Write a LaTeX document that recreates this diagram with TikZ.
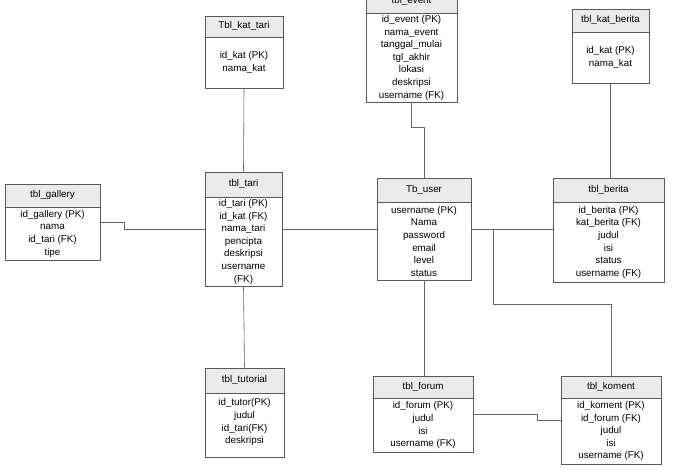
\documentclass[tikz,border=0pt]{standalone}
\usepackage{fontspec}
\setmainfont{Liberation Sans}
\begin{document}
\begin{tikzpicture}[x=1pt,y=-1pt,
        head/.style={draw=black!65,fill=black!8,anchor=south,inner sep=1pt,
            font=\fontsize{9.8}{12.6}\selectfont},
        body/.style={draw=black!65,fill=white,anchor=north,inner sep=1pt,align=center,
            font=\fontsize{9.8}{12.6}\selectfont},
        link/.style={draw=black!60,line width=0.6pt}]
        \useasboundingbox[fill=white] (0,0) rectangle (673,470);
        %% tables: header above, field list below
        \node[head,minimum width=95,minimum height=23] (gallery-h) at (52.5,207) {tbl\_gallery};
        \node[body,minimum width=95,minimum height=53] (gallery-b) at (52.5,207) {id\_gallery (PK)\\nama\\id\_tari (FK)\\tipe};
        \node[head,minimum width=78,minimum height=21] (kattari-h) at (244,37) {Tbl\_kat\_tari};
        \node[body,minimum width=78,minimum height=51] (kattari-b) at (244,37) {id\_kat (PK)\\nama\_kat};
        \node[head,minimum width=91,minimum height=23] (event-h) at (411.5,13) {tbl\_event};
        \node[body,minimum width=91,minimum height=89] (event-b) at (411.5,13) {id\_event (PK)\\nama\_event\\tanggal\_mulai\\tgl\_akhir\\lokasi\\deskripsi\\username (FK)};
        \node[head,minimum width=77,minimum height=23] (katberita-h) at (610.5,32) {tbl\_kat\_berita};
        \node[body,minimum width=77,minimum height=51] (katberita-b) at (610.5,32) {id\_kat (PK)\\nama\_kat};
        \node[head,minimum width=77,minimum height=25] (tari-h) at (243.5,197) {tbl\_tari};
        \node[body,minimum width=77,minimum height=89] (tari-b) at (243.5,197) {id\_tari (PK)\\id\_kat (FK)\\nama\_tari\\pencipta\\deskripsi\\username\\(FK)};
        \node[head,minimum width=94,minimum height=24] (user-h) at (424,202) {Tb\_user};
        \node[body,minimum width=94,minimum height=78] (user-b) at (424,202) {username (PK)\\Nama\\password\\email\\level\\status};
        \node[head,minimum width=111,minimum height=24] (berita-h) at (608.5,202) {tbl\_berita};
        \node[body,minimum width=111,minimum height=80] (berita-b) at (608.5,202) {id\_berita (PK)\\kat\_berita (FK)\\judul\\isi\\status\\username (FK)};
        \node[head,minimum width=79,minimum height=25] (tutorial-h) at (244.5,393) {tbl\_tutorial};
        \node[body,minimum width=79,minimum height=64,text depth=8pt] (tutorial-b) at (244.5,393) {id\_tutor(PK)\\judul\\id\_tari(FK)\\deskripsi};
        \node[head,minimum width=100,minimum height=22] (forum-h) at (423,398) {tbl\_forum};
        \node[body,minimum width=100,minimum height=54] (forum-b) at (423,398) {id\_forum (PK)\\judul\\isi\\username (FK)};
        \node[head,minimum width=100,minimum height=22] (koment-h) at (611,398) {tbl\_koment};
        \node[body,minimum width=100,minimum height=66] (koment-b) at (611,398) {id\_koment (PK)\\id\_forum (FK)\\judul\\isi\\username (FK)};
        %% relations
        \draw[link] (gallery-b.east |- 0,222) -- ++(24,0) |- (tari-b.west |- 0,229);
        \draw[link] (kattari-b.south) -- (tari-h.north);
        \draw[link] (tari-b.south) -- (tutorial-h.north);
        \draw[link] (tari-b.east |- 0,229) -- (user-b.west |- 0,229);
        \draw[link] (event-b.south) -- ++(0,25) -| (user-h.north);
        \draw[link] (user-b.east |- 0,229) -- (berita-b.west |- 0,229);
        \draw[link] (katberita-b.south) -- (katberita-b.south |- berita-h.north);
        \draw[link] (user-b.south) -- (user-b.south |- forum-h.north);
        \coordinate (split) at (493,229);
        \draw[link] (split) -- ++(0,75) -| (koment-h.north);
        \draw[link] (forum-b.east |- 0,414) -- ++(64,0) |- (koment-b.west |- 0,420);
    \end{tikzpicture}
\end{document}
